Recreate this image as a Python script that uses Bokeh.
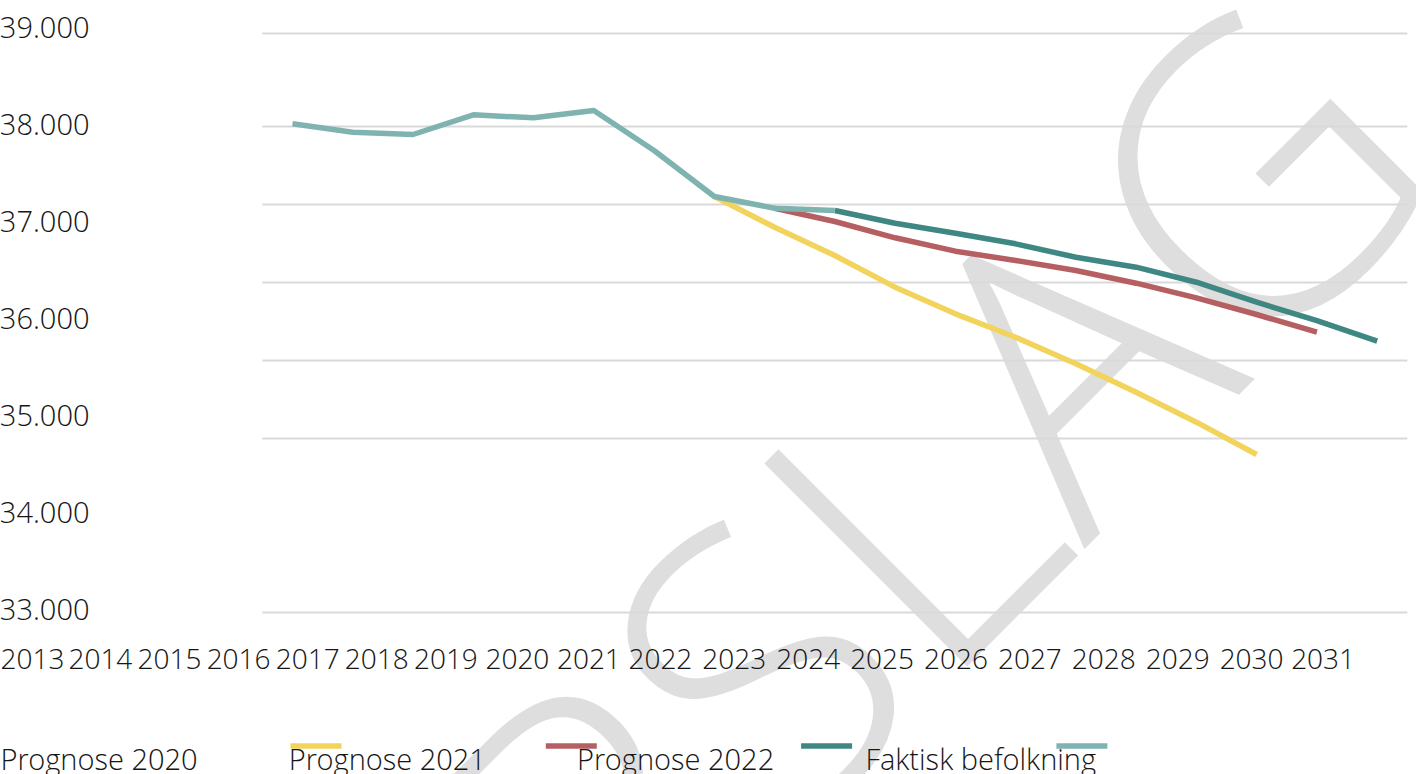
import math
from bokeh.plotting import figure
from bokeh.models import Range1d, LinearAxis, FixedTicker
from bokeh.core.properties import value
from bokeh.embed import file_html
from bokeh.resources import INLINE

# ---------------- data ----------------
years = list(range(2013, 2032))
x_tick_labels = [str(y) for y in years]

faktisk_years = list(range(2013, 2023))
faktisk = [38007, 37921, 37897, 38100, 38069, 38144, 37732, 37258, 37137, 37113]

p2020_years = list(range(2020, 2030))
p2020 = [37258, 36941, 36649, 36323, 36048, 35807, 35533, 35240, 34931, 34598]

p2021_years = list(range(2021, 2031))
p2021 = [37137, 37000, 36832, 36694, 36598, 36495, 36364, 36213, 36041, 35859]

p2022_years = list(range(2022, 2032))
p2022 = [37113, 36982, 36879, 36770, 36632, 36529, 36374, 36168, 35979, 35766]

y_ticks = [33000, 34000, 35000, 36000, 37000, 38000, 39000]
y_tick_labels = ["33.000", "34.000", "35.000", "36.000", "37.000", "38.000", "39.000"]

grid_values = [38938, 37979, 37175, 36371, 35567, 34763, 32969]

legend_labels = ["Prognose 2020", "Prognose 2021", "Prognose 2022", "Faktisk befolkning"]
watermark = "FORSLAG"

# ---------------- styles ----------------
COLORS = ["#F2D35C", "#B65F62", "#3E8782", "#7FB3B0"]
FONT_NAME = "Open Sans Light"
FONT = value(FONT_NAME)
TEXT_COLOR = "#161616"
FS = "29px"

# ---------------- layout (canvas px) ----------------
W, H = 1416, 774
PX_PER_YEAR = 60.26
X_FIRST_PX = 292          # centre of first category
PX_PER_UNIT = 0.097
Y_TOP_TICK_PX = 27        # position of the 39.000 label

x_start = years[0] - X_FIRST_PX / PX_PER_YEAR
x_end = x_start + W / PX_PER_YEAR
y_end = y_ticks[-1] + Y_TOP_TICK_PX / PX_PER_UNIT
y_start = y_end - H / PX_PER_UNIT


def xd(px):
    return x_start + px / PX_PER_YEAR


def yd(py):
    return y_end - py / PX_PER_UNIT


p = figure(width=W, height=H, output_backend="svg", toolbar_location=None,
           x_range=Range1d(x_start, x_end), y_range=Range1d(y_start, y_end),
           x_axis_type=None, y_axis_type=None, min_border=0,
           background_fill_color="white", border_fill_color="white")
p.outline_line_color = None
p.grid.visible = False

# watermark
p.text(x=[xd(1344)], y=[yd(68)], text=[watermark], angle=math.pi / 4,
       text_align="right", text_baseline="alphabetic",
       text_font=FONT, text_font_size="402px", text_color="#dedede")

# gridlines spanning the category area
gx0 = years[0] - 0.5
gx1 = years[-1] + 0.5
p.segment(x0=[gx0] * len(grid_values), x1=[gx1] * len(grid_values),
          y0=grid_values, y1=grid_values, line_color="#d9d9d9", line_width=2)

# series
series = [(p2020_years, p2020), (p2021_years, p2021), (p2022_years, p2022),
          (faktisk_years, faktisk)]
for (xs, ys), col in zip(series, COLORS):
    p.line(xs, ys, line_color=col, line_width=5.5, line_join="round", line_cap="butt")

axis_style = dict(major_label_standoff=0, major_tick_out=0, major_tick_in=0,
                  minor_tick_out=0, minor_tick_in=0, axis_line_color=None,
                  major_tick_line_color=None, minor_tick_line_color=None,
                  major_label_text_font=FONT_NAME,
                  major_label_text_color=TEXT_COLOR)

# y axis (labels only)
yaxis = LinearAxis(fixed_location=xd(89), ticker=FixedTicker(ticks=y_ticks),
                   major_label_overrides={t: l for t, l in zip(y_ticks, y_tick_labels)},
                   major_label_text_font_size=FS, **axis_style)
p.add_layout(yaxis, "left")

# x axis labels: one running line of text with proportional figures
DIGIT_PX, ONE_PX, SPACE_PX = 16.6, 11.8, 7.5
centers = []
pos = 0.0
for lab in x_tick_labels:
    w = sum(ONE_PX if ch == "1" else DIGIT_PX for ch in lab)
    centers.append(round(pos + w / 2, 1))
    pos += w + SPACE_PX
p.extra_x_ranges = {"lab": Range1d(0, W)}
xaxis = LinearAxis(x_range_name="lab", fixed_location=yd(648),
                   ticker=FixedTicker(ticks=centers),
                   major_label_overrides={c: l for c, l in zip(centers, x_tick_labels)},
                   major_label_text_font_size="28px", **axis_style)
p.add_layout(xaxis, "below")

# legend (keys and labels as in the picture)
KEY_X0, KEY_STEP, KEY_W, KEY_Y = 290, 255.3, 51, 745.5
LAB_X0, LAB_STEP, LAB_Y = 0, 288.3, 758
kx0 = [xd(KEY_X0 + i * KEY_STEP) for i in range(len(COLORS))]
kx1 = [xd(KEY_X0 + i * KEY_STEP + KEY_W) for i in range(len(COLORS))]
p.segment(x0=kx0, x1=kx1, y0=[yd(KEY_Y)] * 4, y1=[yd(KEY_Y)] * 4,
          line_color=COLORS, line_width=5.5)
p.text(x=[xd(LAB_X0 + i * LAB_STEP) for i in range(len(legend_labels))],
       y=[yd(LAB_Y)] * len(legend_labels), text=legend_labels,
       text_align="left", text_baseline="alphabetic",
       text_font=FONT, text_font_size=FS, text_color=TEXT_COLOR)

open("out.html", "w").write(file_html(p, INLINE))
